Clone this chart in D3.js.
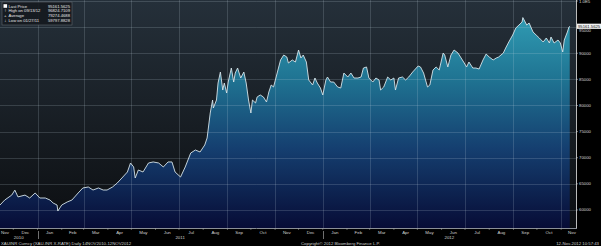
<!DOCTYPE html>
<html>
<head>
<meta charset="utf-8">
<script src="https://cdn.jsdelivr.net/npm/d3@7"></script>
<style>
  body { margin: 0; background: #000; }
  svg { display: block; }
  text { font-family: "Liberation Sans", Arial, sans-serif; }
</style>
</head>
<body>
<svg width="601" height="246"></svg>
<script>
// XAU-INR daily
const dates = [
  "2010-11-14","2010-11-20","2010-11-29","2010-12-03","2010-12-07","2010-12-16","2010-12-22","2010-12-29",
  "2011-01-04","2011-01-11","2011-01-17","2011-01-21","2011-01-26","2011-01-27","2011-02-01","2011-02-08",
  "2011-02-14","2011-02-22","2011-02-28","2011-03-07","2011-03-13","2011-03-20","2011-03-26","2011-03-31",
  "2011-04-07","2011-04-13","2011-04-19","2011-04-26","2011-04-30","2011-05-04","2011-05-06","2011-05-10",
  "2011-05-16","2011-05-23","2011-05-29","2011-06-05","2011-06-11","2011-06-17","2011-06-22","2011-06-26",
  "2011-07-03","2011-07-09","2011-07-16","2011-07-22","2011-07-28","2011-08-03","2011-08-06","2011-08-10",
  "2011-08-13","2011-08-14","2011-08-18","2011-08-20","2011-08-23","2011-08-26","2011-08-28","2011-08-31",
  "2011-09-02","2011-09-06","2011-09-09","2011-09-11","2011-09-14","2011-09-18","2011-09-22","2011-09-25",
  "2011-09-28","2011-10-01","2011-10-03","2011-10-07","2011-10-09","2011-10-13","2011-10-17","2011-10-21",
  "2011-10-24","2011-10-27","2011-10-30","2011-11-04","2011-11-08","2011-11-12","2011-11-16","2011-11-18",
  "2011-11-23","2011-11-27","2011-12-01","2011-12-04","2011-12-07","2011-12-11","2011-12-14","2011-12-19",
  "2011-12-22","2011-12-25","2011-12-29","2012-01-01","2012-01-05","2012-01-07","2012-01-11","2012-01-15",
  "2012-01-20","2012-01-24","2012-01-28","2012-02-02","2012-02-06","2012-02-10","2012-02-15","2012-02-19",
  "2012-02-22","2012-02-26","2012-02-29","2012-03-05","2012-03-09","2012-03-13","2012-03-15","2012-03-19",
  "2012-03-24","2012-03-28","2012-04-01","2012-04-03","2012-04-07","2012-04-12","2012-04-16","2012-04-20",
  "2012-04-25","2012-05-02","2012-05-05","2012-05-09","2012-05-14","2012-05-17","2012-05-21","2012-05-25",
  "2012-05-29","2012-06-03","2012-06-05","2012-06-09","2012-06-13","2012-06-17","2012-06-22","2012-06-26",
  "2012-06-30","2012-07-03","2012-07-06","2012-07-11","2012-07-15","2012-07-19","2012-07-24","2012-07-28",
  "2012-08-01","2012-08-06","2012-08-10","2012-08-13","2012-08-19","2012-08-22","2012-08-26","2012-08-31",
  "2012-09-04","2012-09-08","2012-09-12","2012-09-13","2012-09-18","2012-09-21","2012-09-26","2012-09-30",
  "2012-10-04","2012-10-09","2012-10-13","2012-10-17","2012-10-19","2012-10-23","2012-10-28","2012-10-31",
  "2012-11-03","2012-11-05","2012-11-09","2012-11-11","2012-11-12"
];
const prices = [
  60950,61900,62850,63800,62500,62850,62290,63250,
  62290,62290,61900,61330,60950,59798,60950,61530,
  61900,63250,64210,64400,63820,64210,63820,63820,
  64400,65160,66120,67270,68990,68230,66120,67650,
  67270,68990,69190,68990,68230,69190,69190,67270,
  66310,68230,70900,71480,71100,72440,73780,78560,
  81050,79520,81050,84300,86410,82960,84300,82390,
  84490,87170,84490,86210,87170,85260,86410,84300,
  81050,78560,81050,80480,81630,82010,81630,80670,
  82580,83920,83540,86410,88710,89660,89280,88130,
  88710,88320,90620,89090,89660,88320,84880,83920,
  85260,84300,83350,82010,84880,85450,84490,84490,
  83540,83350,86210,85450,86210,85260,85260,85450,
  87170,87370,85260,84490,85260,84880,82960,83540,
  85450,84880,85260,82960,85260,85450,84880,85450,
  86410,87560,87370,86210,83540,83920,86790,87370,
  86790,90040,89660,87370,89660,90620,90040,89090,
  88130,87370,88320,87170,87170,86980,88710,89850,
  89280,88710,89090,89280,90040,91000,92150,93490,
  94830,95400,95980,96825,95400,95790,94070,93490,
  92920,92150,92920,91960,93110,91960,92530,91960,
  90240,92530,94070,95020,95162
];

const yTicks = [60000, 65000, 70000, 75000, 80000, 85000, 90000, 95000];
const yTopTick = 100000;
const yTopLabel = "1.0E5";

const legendLabels = ["Last Price", "High on 09/13/12", "Average", "Low on 01/27/11"];
const legendValues = ["95161.5625", "96824.7109", "79274.4688", "59797.8828"];
const lastPriceLabel = "95161.5625";

const footerLeft = "XAUINR Curncy (XAU-INR X-RATE)  Daily 14NOV2010-12NOV2012";
const footerMid = "Copyright\u00a9 2012 Bloomberg Finance L.P.";
const footerRight = "12-Nov-2012 10:57:43";

const parse = d3.timeParse("%Y-%m-%d");
const data = dates.map((d, i) => ({ date: parse(d), value: prices[i] }));

const svg = d3.select("svg");
const plotW = 576, plotH = 228;

const x = d3.scaleTime()
  .domain([parse("2010-11-14"), parse("2012-11-20")])
  .range([0, plotW]);
const y = d3.scaleLinear()
  .domain([56550, 100000])
  .range([plotH, 1]);

const defs = svg.append("defs");
const bg = defs.append("linearGradient").attr("id", "bg")
  .attr("x1", 0).attr("y1", 0).attr("x2", 0).attr("y2", 1);
bg.append("stop").attr("offset", "0%").attr("stop-color", "#25303a");
bg.append("stop").attr("offset", "100%").attr("stop-color", "#0c0e11");

const fill = defs.append("linearGradient").attr("id", "fill")
  .attr("gradientUnits", "userSpaceOnUse")
  .attr("x1", 0).attr("y1", 0).attr("x2", 0).attr("y2", plotH);
fill.append("stop").attr("offset", "0%").attr("stop-color", "#34a6bb");
fill.append("stop").attr("offset", "35%").attr("stop-color", "#1f7392");
fill.append("stop").attr("offset", "65%").attr("stop-color", "#153f70");
fill.append("stop").attr("offset", "100%").attr("stop-color", "#070c36");

// plot background
svg.append("rect")
  .attr("width", plotW).attr("height", plotH)
  .attr("fill", "url(#bg)");

const area = d3.area()
  .x(d => x(d.date))
  .y0(plotH)
  .y1(d => y(d.value));

const line = d3.line()
  .x(d => x(d.date))
  .y(d => y(d.value));

svg.append("path")
  .datum(data)
  .attr("d", area)
  .attr("fill", "url(#fill)");

// grid
const grid = svg.append("g").attr("stroke", "rgba(200,215,225,0.18)").attr("stroke-width", 1);
grid.selectAll(".hg")
  .data(yTicks.concat([yTopTick]))
  .join("line")
  .attr("x1", 0).attr("x2", plotW)
  .attr("y1", d => Math.round(y(d)) + 0.5)
  .attr("y2", d => Math.round(y(d)) + 0.5);

const gridMonths = d3.timeMonth.range(x.domain()[0], x.domain()[1])
  .filter(d => d.getMonth() % 2 === 0);
grid.selectAll(".vg")
  .data(gridMonths)
  .join("line")
  .attr("x1", d => Math.round(x(d)) + 0.5)
  .attr("x2", d => Math.round(x(d)) + 0.5)
  .attr("y1", 0).attr("y2", plotH);

svg.append("path")
  .datum(data)
  .attr("d", line)
  .attr("fill", "none")
  .attr("stroke", "#d6e4ea")
  .attr("stroke-width", 0.9);

// axes frame
svg.append("line")
  .attr("x1", plotW + 0.5).attr("x2", plotW + 0.5)
  .attr("y1", 0).attr("y2", plotH + 1)
  .attr("stroke", "#bbb").attr("stroke-width", 1);
svg.append("line")
  .attr("x1", 0).attr("x2", plotW + 1)
  .attr("y1", plotH + 0.5).attr("y2", plotH + 0.5)
  .attr("stroke", "#8a8f96").attr("stroke-width", 1);

// last price position, used to keep the 95000 label clear of the tag
const lastY = y(prices[prices.length - 1]);

// right axis labels
const yAxis = svg.append("g").attr("font-size", 4.3).attr("fill", "#d8d8d8");
yAxis.selectAll("line")
  .data(yTicks.concat([yTopTick]))
  .join("line")
  .attr("x1", plotW).attr("x2", plotW + 2)
  .attr("y1", d => y(d)).attr("y2", d => y(d))
  .attr("stroke", "#ccc").attr("stroke-width", 0.6);
yAxis.selectAll("text")
  .data(yTicks.concat([yTopTick]))
  .join("text")
  .attr("x", plotW + 3)
  .attr("y", d => {
    const ty = y(d) + 1.5;
    return Math.abs(y(d) - lastY) < 5 ? lastY + 6.2 : ty;
  })
  .text(d => d === yTopTick ? yTopLabel : d);

// last price tag
svg.append("rect")
  .attr("x", plotW + 1).attr("y", lastY - 2.6)
  .attr("width", 24).attr("height", 5.2)
  .attr("fill", "#f2f2f2");
svg.append("text")
  .attr("x", plotW + 2).attr("y", lastY + 1.5)
  .attr("font-size", 4.2).attr("fill", "#111")
  .text(lastPriceLabel);

// bottom axis: months
const months = d3.timeMonth.range(d3.timeMonth.floor(x.domain()[0]), x.domain()[1]);
const xAxis = svg.append("g").attr("font-size", 4.4).attr("fill", "#d0d0d0");
xAxis.selectAll("line")
  .data(months.filter(d => x(d) > 0))
  .join("line")
  .attr("x1", d => x(d)).attr("x2", d => x(d))
  .attr("y1", plotH).attr("y2", plotH + 2)
  .attr("stroke", "#aaa").attr("stroke-width", 0.5);
xAxis.selectAll("text")
  .data(months)
  .join("text")
  .attr("text-anchor", "middle")
  .attr("x", d => Math.min(plotW - 4, Math.max(5, (x(d) + x(d3.timeMonth.offset(d, 1))) / 2)))
  .attr("y", 234)
  .text(d3.timeFormat("%b"));

// years
const years = d3.timeYear.range(d3.timeYear.floor(x.domain()[0]), x.domain()[1]);
svg.append("g").attr("font-size", 4.4).attr("fill", "#d0d0d0")
  .selectAll("text")
  .data(years)
  .join("text")
  .attr("text-anchor", "middle")
  .attr("x", d => {
    const a = Math.max(0, x(d)), b = Math.min(plotW, x(d3.timeYear.offset(d, 1)));
    return (a + b) / 2;
  })
  .attr("y", 239)
  .text(d3.timeFormat("%Y"));
svg.append("g")
  .selectAll("line")
  .data(years.filter(d => x(d) > 0))
  .join("line")
  .attr("x1", d => Math.round(x(d)) + 0.5).attr("x2", d => Math.round(x(d)) + 0.5)
  .attr("y1", 231).attr("y2", 239)
  .attr("stroke", "#bbb").attr("stroke-width", 0.6);

// footer
const foot = svg.append("g").attr("font-size", 4.3).attr("fill", "#cfcfcf");
foot.append("text").attr("x", 1).attr("y", 245).text(footerLeft);
foot.append("text").attr("x", 301).attr("y", 245).text(footerMid);
foot.append("text").attr("x", 599).attr("y", 245).attr("text-anchor", "end").text(footerRight);

// legend
const leg = svg.append("g").attr("transform", "translate(2,2)");
leg.append("rect")
  .attr("width", 70).attr("height", 23)
  .attr("fill", "rgba(22,26,31,0.92)")
  .attr("stroke", "#6b7178").attr("stroke-width", 0.5);
const rows = leg.selectAll(".row")
  .data(legendLabels)
  .join("g")
  .attr("transform", (d, i) => `translate(0,${4 + i * 4.7})`);
rows.append("text")
  .attr("x", 6.5).attr("y", 1.5)
  .attr("font-size", 4.2).attr("fill", "#e6e6e6")
  .text(d => d);
rows.append("text")
  .attr("x", 68).attr("y", 1.5)
  .attr("text-anchor", "end")
  .attr("font-size", 4.2).attr("fill", "#e6e6e6")
  .text((d, i) => legendValues[i]);
const icons = ["", "\u2191", "+", "\u2193"];
rows.filter((d, i) => i === 0).append("rect")
  .attr("x", 1.5).attr("y", -1.8).attr("width", 3.6).attr("height", 3.6)
  .attr("fill", "#fff");
rows.filter((d, i) => i > 0).append("text")
  .attr("x", 3.3).attr("y", 1.6)
  .attr("text-anchor", "middle")
  .attr("font-size", 4.4).attr("fill", "#e6e6e6")
  .text((d, i) => icons[i + 1]);
</script>
</body>
</html>
